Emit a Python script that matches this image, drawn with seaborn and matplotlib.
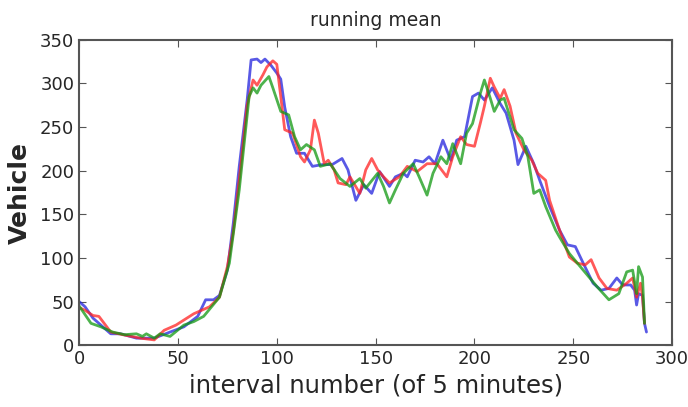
import numpy as np
import pandas as pd
import matplotlib
matplotlib.use("Agg")
import matplotlib.pyplot as plt
import seaborn as sns

# values (x = interval number, y = vehicles)
blue_x = [0, 3, 7, 12, 16, 21, 29, 38, 46, 53, 60, 64, 68, 71, 75, 78, 81, 85, 87, 90,
          92, 94, 97, 100, 102, 104, 107, 110, 114, 118, 123, 128, 133, 136, 140, 144, 148,
          152, 157, 160, 164, 166, 170, 174, 177, 180, 184, 188, 191, 195, 199, 202, 205,
          209, 213, 216, 220, 222, 226, 230, 233, 238, 243, 247, 251, 255, 260, 264, 268,
          272, 275, 279, 281, 282, 283, 285, 286, 287]
blue_y = [50, 44, 31, 21, 13, 13, 8, 8, 15, 21, 33, 52, 52, 57, 86, 140, 205, 281, 327, 328,
          324, 328, 321, 312, 305, 273, 239, 220, 220, 205, 207, 207, 214, 201, 166, 184, 174,
          199, 182, 193, 197, 193, 212, 210, 216, 208, 235, 212, 235, 239, 285, 289, 281,
          295, 277, 266, 235, 207, 228, 208, 189, 159, 132, 115, 113, 94, 71, 63, 65,
          77, 69, 69, 63, 46, 59, 57, 25, 15]

red_x = [0, 3, 7, 10, 16, 22, 31, 38, 43, 49, 58, 66, 71, 75, 78, 82, 85, 88, 90, 93,
         95, 98, 100, 102, 104, 108, 112, 114, 117, 119, 121, 124, 126, 129, 131, 135, 137,
         142, 145, 148, 151, 154, 157, 162, 166, 171, 176, 181, 186, 189, 193, 196, 200,
         203, 205, 208, 210, 213, 215, 218, 221, 225, 229, 232, 236, 238, 243, 248, 252,
         256, 259, 263, 267, 272, 277, 280, 282, 284, 285, 286]
red_y = [43, 40, 34, 33, 15, 12, 8, 6, 17, 23, 36, 44, 55, 90, 130, 210, 275, 304, 298, 310,
         319, 326, 322, 285, 247, 243, 216, 210, 224, 258, 243, 208, 212, 201, 186, 184, 193,
         174, 201, 214, 201, 193, 186, 193, 205, 199, 208, 208, 193, 216, 239, 230, 228,
         255, 274, 306, 296, 283, 293, 274, 243, 224, 212, 197, 189, 166, 132, 101, 94,
         92, 98, 77, 65, 63, 71, 77, 55, 71, 55, 25]

green_x = [0, 3, 6, 11, 17, 23, 29, 32, 34, 38, 41, 46, 53, 58, 63, 71, 76, 81, 86, 88,
           90, 92, 96, 98, 102, 106, 109, 112, 115, 119, 122, 127, 132, 137, 142, 145, 151,
           154, 157, 160, 164, 169, 172, 176, 179, 183, 186, 189, 193, 196, 199, 203, 205,
           208, 210, 213, 215, 220, 224, 227, 230, 233, 236, 241, 243, 248, 255, 262, 268,
           273, 277, 280, 282, 283, 285, 286]
green_y = [45, 35, 25, 21, 15, 12, 13, 10, 13, 8, 13, 10, 23, 27, 33, 55, 94, 178, 285, 295,
           289, 298, 308, 295, 268, 264, 239, 224, 230, 224, 205, 208, 191, 182, 191, 180, 197,
           182, 163, 178, 197, 208, 193, 172, 197, 216, 208, 231, 208, 243, 254, 289, 304,
           283, 268, 281, 283, 247, 237, 216, 174, 178, 159, 132, 124, 105, 86, 67, 52,
           59, 84, 86, 59, 90, 78, 25]

x_ticks = [0, 50, 100, 150, 200, 250, 300]
y_ticks = [0, 50, 100, 150, 200, 250, 300, 350]

sns.set_style("ticks")
plt.rcParams['font.family'] = ['DejaVu Sans']

fig = plt.figure(figsize=(6.88, 4.07), dpi=100)
ax = fig.add_axes([0.115, 0.152, 0.862, 0.750])

sns.lineplot(x=blue_x, y=blue_y, color="#2222dd", alpha=0.75, lw=2, sort=False, ax=ax)
sns.lineplot(x=red_x, y=red_y, color="#ff2222", alpha=0.75, lw=2, sort=False, ax=ax)
sns.lineplot(x=green_x, y=green_y, color="#119911", alpha=0.75, lw=2, sort=False, ax=ax)

ax.set_xlim(0, 300)
ax.set_ylim(0, 350)
ax.set_xticks(x_ticks)
ax.set_yticks(y_ticks)
ax.tick_params(direction="in", top=True, right=True, labelsize=13, length=5, color="#555555")
for s in ax.spines.values():
    s.set_color("#555555")
    s.set_linewidth(1.5)

ax.set_title("running mean", fontsize=13.5, pad=10)
ax.set_ylabel("Vehicle", fontsize=18, fontweight="bold", labelpad=6)
ax.set_xlabel("interval number (of 5 minutes)", fontsize=17.5)

fig.savefig("out.png", dpi=100)
